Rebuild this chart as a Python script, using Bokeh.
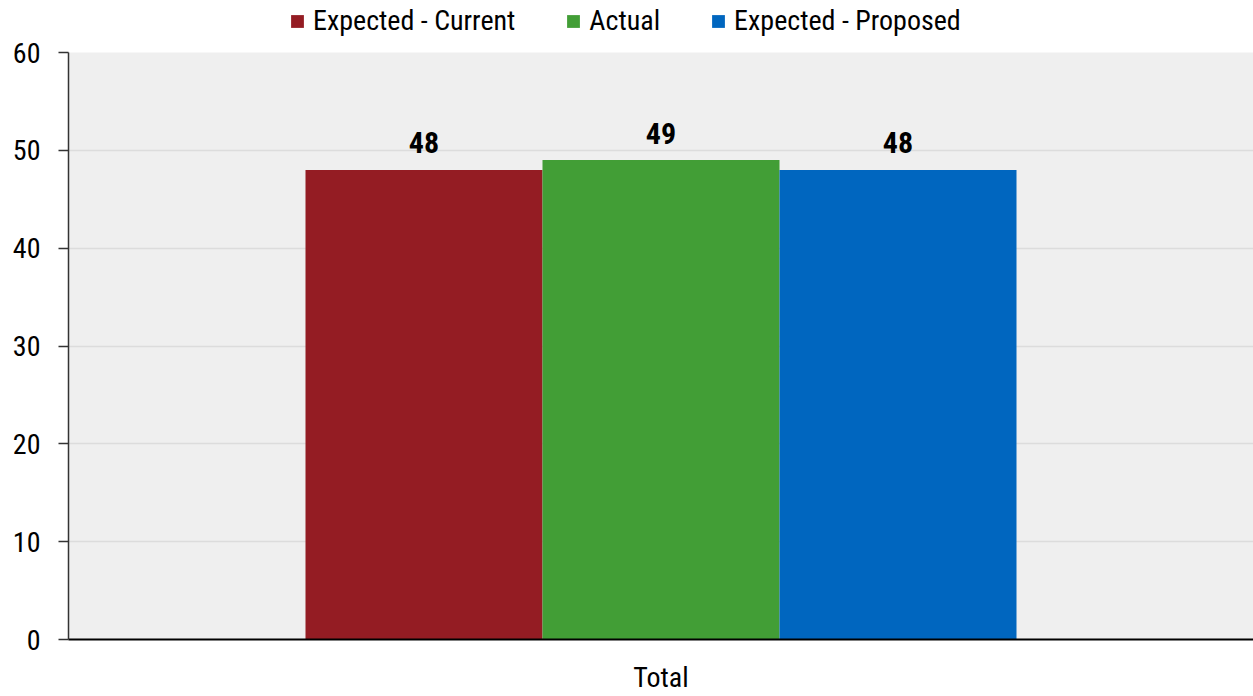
from bokeh.plotting import figure
from bokeh.layouts import column
from bokeh.models import ColumnDataSource, FactorRange, Legend, LegendItem, SingleIntervalTicker, Range1d
from bokeh.transform import dodge
from bokeh.core.properties import value
from bokeh.embed import file_html
from bokeh.resources import INLINE

FONT = "Roboto Condensed"

categories = ["Total"]
series_names = ["Expected - Current", "Actual", "Expected - Proposed"]
series_colors = ["#941c23", "#429e36", "#0066bf"]
expected_current = [48]
actual = [49]
expected_proposed = [48]
y_ticks_step = 10

source = ColumnDataSource(dict(
    cat=categories,
    ec=expected_current,
    ac=actual,
    ep=expected_proposed,
    ec_lbl=[str(v) for v in expected_current],
    ac_lbl=[str(v) for v in actual],
    ep_lbl=[str(v) for v in expected_proposed],
))

cols = ["ec", "ac", "ep"]
offsets = [-0.2, 0.0, 0.2]

# main chart
p = figure(
    width=1253, height=660,
    x_range=FactorRange(factors=categories, range_padding=0),
    y_range=(0, 60),
    output_backend="svg", toolbar_location=None,
    min_border_left=68, min_border_right=0, min_border_top=16, min_border_bottom=56,
    background_fill_color="#efefef", border_fill_color="white",
    outline_line_color=None,
)

for col, off, color in zip(cols, offsets, series_colors):
    p.vbar(x=dodge("cat", off, range=p.x_range), top=col, width=0.2,
           source=source, fill_color=color, line_color=None)
    p.text(x=dodge("cat", off, range=p.x_range), y=col, text=col + "_lbl",
           source=source, text_align="center", text_baseline="alphabetic",
           y_offset=-27, text_font=value(FONT), text_font_style="bold",
           text_font_size="30px", text_color="black")

p.yaxis.ticker = SingleIntervalTicker(interval=y_ticks_step)
p.yaxis.major_tick_out = 10
p.yaxis.major_tick_in = 0
p.yaxis.minor_tick_line_color = None
p.yaxis.axis_line_color = "#333333"
p.yaxis.axis_line_width = 1.5
p.yaxis.major_tick_line_color = "#333333"
p.yaxis.major_tick_line_width = 1.5
p.yaxis.major_label_text_font = FONT
p.yaxis.major_label_text_font_size = "28px"
p.yaxis.major_label_text_color = "black"
p.yaxis.major_label_standoff = 18

p.xaxis.major_tick_line_color = None
p.xaxis.minor_tick_line_color = None
p.xaxis.axis_line_color = "black"
p.xaxis.axis_line_width = 2
p.xaxis.major_label_text_font = FONT
p.xaxis.major_label_text_font_size = "28px"
p.xaxis.major_label_text_color = "black"
p.xaxis.major_label_standoff = 15

p.xgrid.grid_line_color = None
p.ygrid.grid_line_color = "#dcdcdc"
p.ygrid.grid_line_width = 1.5

# legend strip above the chart
lg = figure(
    width=1253, height=36,
    x_range=FactorRange(factors=categories), y_range=Range1d(100, 101),
    output_backend="svg", toolbar_location=None,
    min_border=0, outline_line_color=None,
    background_fill_color="white", border_fill_color="white",
)
lg.axis.visible = False
lg.grid.visible = False
swatches = []
for col, color in zip(cols, series_colors):
    swatches.append(lg.vbar(x="cat", top=col, width=0.2, source=source,
                            fill_color=color, line_color=None))

legend = Legend(
    items=[LegendItem(label=n, renderers=[r]) for n, r in zip(series_names, swatches)],
    orientation="horizontal", location=(221, -1),
    label_text_font=FONT, label_text_font_size="28px", label_text_color="black",
    glyph_width=16, glyph_height=16, label_standoff=8, spacing=50,
    padding=0, margin=0, border_line_color=None, background_fill_alpha=0,
)
lg.add_layout(legend, "center")

layout = column(lg, p, spacing=0)
open("out.html", "w").write(file_html(layout, INLINE))
